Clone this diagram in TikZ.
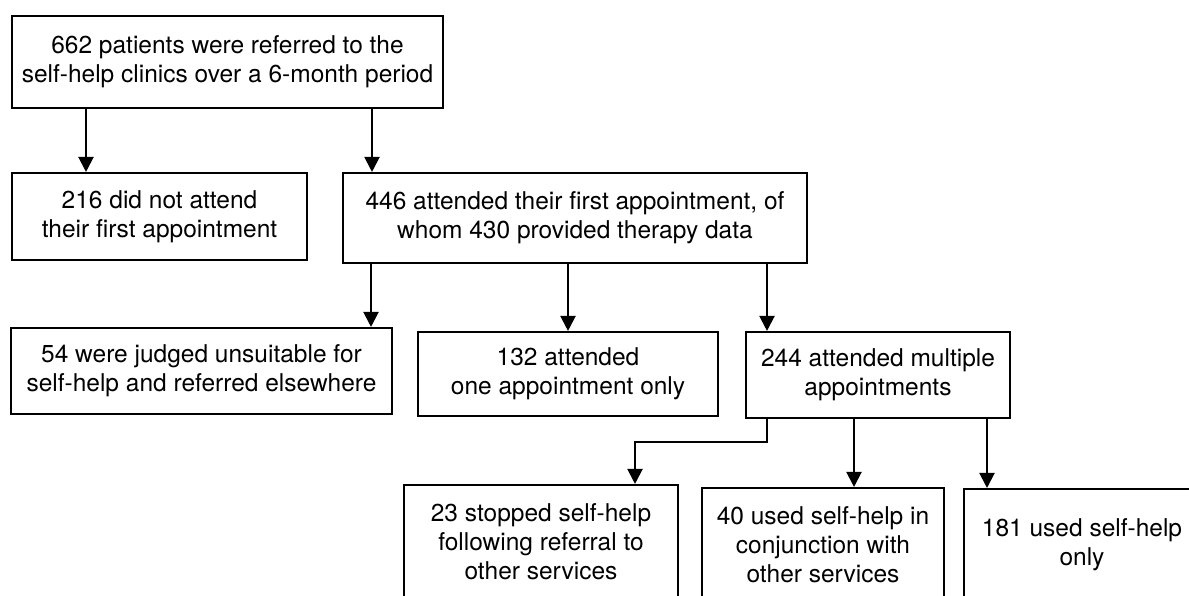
\documentclass[tikz,border=0pt]{standalone}
\usepackage{fontspec}
\setmainfont{TeX Gyre Heros}
\usetikzlibrary{arrows.meta}
\begin{document}
\begin{tikzpicture}[x=1pt,y=-1pt,
  box/.style={draw=black, line width=2.1pt, rectangle, align=center, inner sep=0pt,
    font=\fontsize{24.5}{29}\selectfont},
  arr/.style={draw=black, line width=2.1pt, -{Triangle[width=15pt,length=15pt]}}]
\useasboundingbox (0,0) rectangle (1189,595);
\fill[white] (0,0) rectangle (1189,595);
\begin{scope}
\clip (0,0) rectangle (1189,595);
\node[box, minimum width=431pt, minimum height=92pt] (b1) at (227.5,62) {662 patients were referred to the\\self-help clinics over a 6-month period};
\node[box, minimum width=295pt, minimum height=87pt] (b2) at (159.5,216.5) {216 did not attend\\their first appointment};
\node[box, minimum width=464pt, minimum height=90pt] (b3) at (575,218) {446 attended their first appointment, of\\whom 430 provided therapy data};
\node[box, minimum width=381pt, minimum height=86pt] (b4) at (201.5,371) {54 were judged unsuitable for\\self-help and referred elsewhere};
\node[box, minimum width=300pt, minimum height=84pt] (b5) at (568,374) {132 attended\\one appointment only};
\node[box, minimum width=264pt, minimum height=86pt] (b6) at (878,375) {244 attended multiple\\appointments};
\node[box, minimum width=274pt, minimum height=114pt] (b7) at (541,542) {23 stopped self-help\\following referral to\\other services};
\node[box, minimum width=242pt, minimum height=114pt] (b8) at (823,545) {40 used self-help in\\conjunction with\\other services};
\node[box, minimum width=236pt, minimum height=112pt] (b9) at (1082,545) {181 used self-help\\only};
\coordinate (c1) at (86,0);
\coordinate (c2) at (372,0);
\coordinate (c3) at (371,0);
\coordinate (c4) at (568,0);
\coordinate (c5) at (767,0);
\coordinate (c6) at (635,442);
\coordinate (c7) at (854,0);
\coordinate (c8) at (987,0);
\draw[arr] (b1.south -| c1) -- (b2.north -| c1);
\draw[arr] (b1.south -| c2) -- (b3.north -| c2);
\draw[arr] (b3.south -| c3) -- (b4.north -| c3);
\draw[arr] (b3.south -| c4) -- (b5.north -| c4);
\draw[arr] (b3.south -| c5) -- (b6.north -| c5);
\draw[arr] (b6.south -| c5) |- (c6) -- (b7.north -| c6);
\draw[arr] (b6.south -| c7) -- (b8.north -| c7);
\draw[arr] (b6.south -| c8) -- (b9.north -| c8);
\end{scope}
\end{tikzpicture}
\end{document}
